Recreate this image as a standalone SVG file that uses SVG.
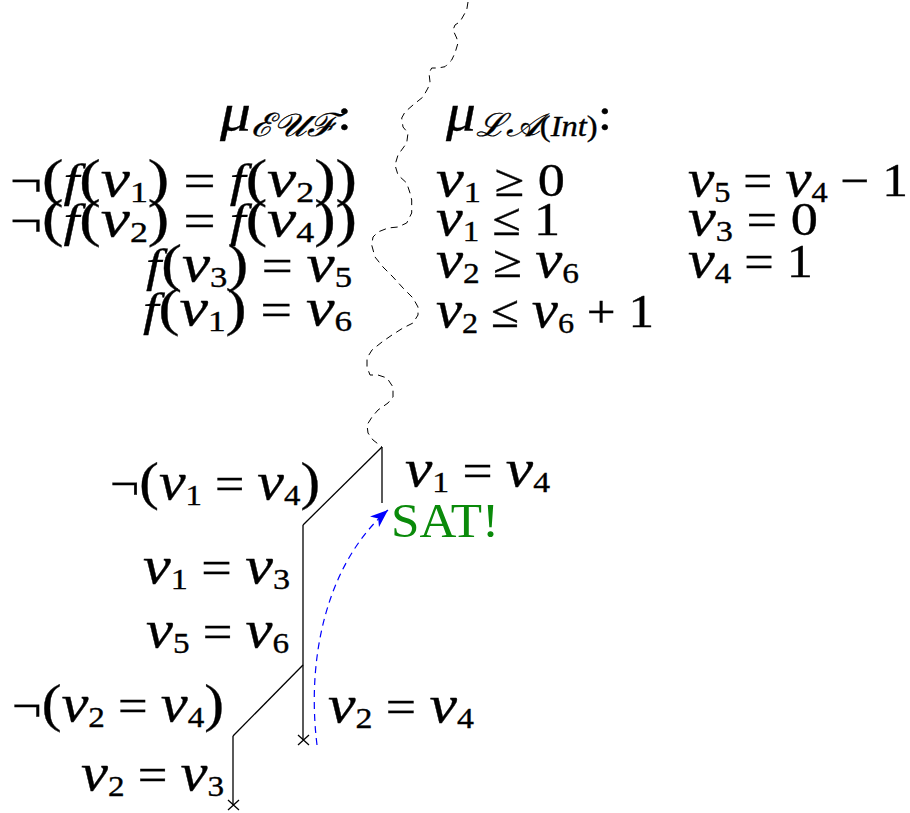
<svg xmlns="http://www.w3.org/2000/svg" width="910" height="813" viewBox="0 0 910 813">
<style>
.t { font-family: "Liberation Serif", "Times New Roman", serif; font-size: 46px; fill: #000; stroke: #000; stroke-width: 0.35; }
.i { font-style: italic; }
.v { font-style: italic; font-size: 53px; }
.s { font-size: 29px; }
.p { font-size: 52px; }
.c { font-size: 32px; font-style: italic; font-family: "DejaVu Serif", "Liberation Serif", serif; }
.edge { stroke: #000; stroke-width: 1.3; fill: none; }
.wavy { stroke: #000; stroke-width: 1; fill: none; stroke-dasharray: 7 5; stroke-linejoin: round; }
.back { stroke: #0000ff; stroke-width: 1.2; fill: none; stroke-dasharray: 7 5; }
.sat { font-family: "Liberation Serif", "Times New Roman", serif; font-size: 48px; fill: #0a8a0a; }
</style>
<defs>
<marker id="ah" markerUnits="userSpaceOnUse" markerWidth="22" markerHeight="14" refX="18" refY="7" orient="auto">
<path d="M0,0 L18,7 L0,14 L5,7 Z" fill="#0000ff"/>
</marker>
</defs>

<g id="connectors">
<polyline id="split-line" class="wavy" points="468,2 466.7,10 460,21.7 455,25 453,30 456.7,38 458,43 455,53 451.7,60 445,66.7 438,68 431.7,68 429,73 430,82 428,88 423,97 413,105 405,112 401.7,118 403,127 408,133 406.7,143 398,155 395,165 398,175 406.7,183 410,193 411.7,200 411.7,205 411.7,213 406.7,223 398,227 388,228 378,232 373,237 371.7,245 375,257 383,267 393,277 403,288 413,298 418,307 418,315 413,323 403,328 392,335 382,342 372,350 367,358 367,367 370,375 378,375 387,378 393,387 393,397 388,403 378,410 372,417 367,425 368,433 373,440 382,447"/>
<line class="edge" x1="382" y1="447" x2="382" y2="503"/>
<line class="edge" x1="382" y1="447" x2="303" y2="525"/>
<line class="edge" x1="303" y1="525" x2="303" y2="740"/>
<line class="edge" x1="303" y1="665" x2="233" y2="736"/>
<line class="edge" x1="233" y1="736" x2="233" y2="805"/>
<path class="edge" d="M298,735 L309,745 M298,745 L309,735"/>
<path class="edge" d="M228,800 L239,810 M228,810 L239,800"/>
<path id="backjump" class="back" d="M317,745 C306,655 328,562 388,510" marker-end="url(#ah)"/>
</g>

<g id="mu-euf">
<text class="t" font-family="Liberation Serif, serif" x="220" y="130" textLength="132" lengthAdjust="spacingAndGlyphs"><tspan class="v">μ</tspan><tspan class="c" dy="6">ℰ𝒰ℱ</tspan><tspan dy="-6">:</tspan></text>
<text class="t" font-family="Liberation Serif, serif" x="10" y="196" textLength="347" lengthAdjust="spacingAndGlyphs">¬<tspan class="p">(</tspan><tspan class="i">f</tspan><tspan class="p">(</tspan><tspan class="v">v</tspan><tspan class="s" dy="6">1</tspan><tspan class="p" dy="-6">)</tspan> = <tspan class="i">f</tspan><tspan class="p">(</tspan><tspan class="v">v</tspan><tspan class="s" dy="6">2</tspan><tspan class="p" dy="-6">))</tspan></text>
<text class="t" font-family="Liberation Serif, serif" x="10" y="236" textLength="347" lengthAdjust="spacingAndGlyphs">¬<tspan class="p">(</tspan><tspan class="i">f</tspan><tspan class="p">(</tspan><tspan class="v">v</tspan><tspan class="s" dy="6">2</tspan><tspan class="p" dy="-6">)</tspan> = <tspan class="i">f</tspan><tspan class="p">(</tspan><tspan class="v">v</tspan><tspan class="s" dy="6">4</tspan><tspan class="p" dy="-6">))</tspan></text>
<text class="t" font-family="Liberation Serif, serif" x="146" y="281" textLength="206" lengthAdjust="spacingAndGlyphs"><tspan class="i">f</tspan><tspan class="p">(</tspan><tspan class="v">v</tspan><tspan class="s" dy="6">3</tspan><tspan class="p" dy="-6">)</tspan> = <tspan class="v">v</tspan><tspan class="s" dy="6">5</tspan></text>
<text class="t" font-family="Liberation Serif, serif" x="143" y="325" textLength="209" lengthAdjust="spacingAndGlyphs"><tspan class="i">f</tspan><tspan class="p">(</tspan><tspan class="v">v</tspan><tspan class="s" dy="6">1</tspan><tspan class="p" dy="-6">)</tspan> = <tspan class="v">v</tspan><tspan class="s" dy="6">6</tspan></text>
</g>

<g id="mu-la">
<text class="t" font-family="Liberation Serif, serif" x="446" y="130" textLength="166" lengthAdjust="spacingAndGlyphs"><tspan class="v">μ</tspan><tspan class="c" dy="6">ℒ𝒜</tspan><tspan class="s">(</tspan><tspan class="s i">Int</tspan><tspan class="s">)</tspan><tspan dy="-6">:</tspan></text>
<text class="t" font-family="Liberation Serif, serif" x="436" y="196" textLength="129" lengthAdjust="spacingAndGlyphs"><tspan class="v">v</tspan><tspan class="s" dy="6">1</tspan><tspan dy="-6"> ≥ 0</tspan></text>
<text class="t" font-family="Liberation Serif, serif" x="436" y="235" textLength="124" lengthAdjust="spacingAndGlyphs"><tspan class="v">v</tspan><tspan class="s" dy="6">1</tspan><tspan dy="-6"> ≤ 1</tspan></text>
<text class="t" font-family="Liberation Serif, serif" x="436" y="277" textLength="143" lengthAdjust="spacingAndGlyphs"><tspan class="v">v</tspan><tspan class="s" dy="6">2</tspan><tspan dy="-6"> ≥ </tspan><tspan class="v">v</tspan><tspan class="s" dy="6">6</tspan></text>
<text class="t" font-family="Liberation Serif, serif" x="436" y="327" textLength="218" lengthAdjust="spacingAndGlyphs"><tspan class="v">v</tspan><tspan class="s" dy="6">2</tspan><tspan dy="-6"> ≤ </tspan><tspan class="v">v</tspan><tspan class="s" dy="6">6</tspan><tspan dy="-6"> + 1</tspan></text>
<text class="t" font-family="Liberation Serif, serif" x="688" y="196" textLength="220" lengthAdjust="spacingAndGlyphs"><tspan class="v">v</tspan><tspan class="s" dy="6">5</tspan><tspan dy="-6"> = </tspan><tspan class="v">v</tspan><tspan class="s" dy="6">4</tspan><tspan dy="-6"> − 1</tspan></text>
<text class="t" font-family="Liberation Serif, serif" x="688" y="235" textLength="130" lengthAdjust="spacingAndGlyphs"><tspan class="v">v</tspan><tspan class="s" dy="6">3</tspan><tspan dy="-6"> = 0</tspan></text>
<text class="t" font-family="Liberation Serif, serif" x="688" y="277" textLength="125" lengthAdjust="spacingAndGlyphs"><tspan class="v">v</tspan><tspan class="s" dy="6">4</tspan><tspan dy="-6"> = 1</tspan></text>
</g>

<g id="node-not-v1v4">
<text class="t" font-family="Liberation Serif, serif" x="110" y="499" textLength="210" lengthAdjust="spacingAndGlyphs">¬<tspan class="p">(</tspan><tspan class="v">v</tspan><tspan class="s" dy="6">1</tspan><tspan dy="-6"> = </tspan><tspan class="v">v</tspan><tspan class="s" dy="6">4</tspan><tspan class="p" dy="-6">)</tspan></text>
</g>
<g id="node-v1v4">
<text class="t" font-family="Liberation Serif, serif" x="405" y="486" textLength="145" lengthAdjust="spacingAndGlyphs"><tspan class="v">v</tspan><tspan class="s" dy="6">1</tspan><tspan dy="-6"> = </tspan><tspan class="v">v</tspan><tspan class="s" dy="6">4</tspan></text>
</g>
<g id="node-sat">
<text class="sat" x="391" y="537" textLength="108" lengthAdjust="spacingAndGlyphs">SAT!</text>
</g>
<g id="node-v1v3">
<text class="t" font-family="Liberation Serif, serif" x="143" y="583" textLength="147" lengthAdjust="spacingAndGlyphs"><tspan class="v">v</tspan><tspan class="s" dy="6">1</tspan><tspan dy="-6"> = </tspan><tspan class="v">v</tspan><tspan class="s" dy="6">3</tspan></text>
</g>
<g id="node-v5v6">
<text class="t" font-family="Liberation Serif, serif" x="146" y="647" textLength="143" lengthAdjust="spacingAndGlyphs"><tspan class="v">v</tspan><tspan class="s" dy="6">5</tspan><tspan dy="-6"> = </tspan><tspan class="v">v</tspan><tspan class="s" dy="6">6</tspan></text>
</g>
<g id="node-not-v2v4">
<text class="t" font-family="Liberation Serif, serif" x="12" y="721" textLength="212" lengthAdjust="spacingAndGlyphs">¬<tspan class="p">(</tspan><tspan class="v">v</tspan><tspan class="s" dy="6">2</tspan><tspan dy="-6"> = </tspan><tspan class="v">v</tspan><tspan class="s" dy="6">4</tspan><tspan class="p" dy="-6">)</tspan></text>
</g>
<g id="node-v2v4">
<text class="t" font-family="Liberation Serif, serif" x="328" y="722" textLength="146" lengthAdjust="spacingAndGlyphs"><tspan class="v">v</tspan><tspan class="s" dy="6">2</tspan><tspan dy="-6"> = </tspan><tspan class="v">v</tspan><tspan class="s" dy="6">4</tspan></text>
</g>
<g id="node-v2v3">
<text class="t" font-family="Liberation Serif, serif" x="81" y="790" textLength="143" lengthAdjust="spacingAndGlyphs"><tspan class="v">v</tspan><tspan class="s" dy="6">2</tspan><tspan dy="-6"> = </tspan><tspan class="v">v</tspan><tspan class="s" dy="6">3</tspan></text>
</g>
</svg>
